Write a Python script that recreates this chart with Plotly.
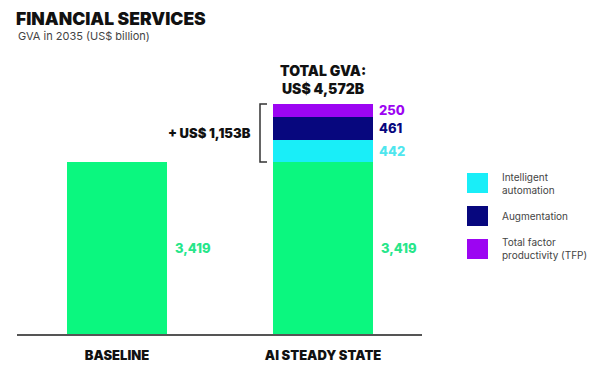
import plotly.graph_objects as go

categories = ["BASELINE", "AI STEADY STATE"]
base_values = [3419, 3419]
series_names = ["Intelligent automation", "Augmentation", "Total factor productivity (TFP)"]
legend_labels = ["Intelligent<br>automation", "Augmentation", "Total factor<br>productivity (TFP)"]
ai_values = [442, 461, 250]
total_gva = 4572
uplift = 1153

GREEN = "#0BF77F"
GREEN_TXT = "#27E68A"
colors = ["#19EEF8", "#07077E", "#9C05F2"]
label_colors = ["#4FE6EE", "#07077E", "#9C05F2"]

FONT = "Inter"
x = [0, 1]
bw = 0.485

fig = go.Figure()
fig.add_trace(go.Bar(x=x, y=base_values, width=bw, marker_color=GREEN,
                     marker_line_width=0, showlegend=False, hoverinfo="skip"))
for name, v, c in zip(series_names, ai_values, colors):
    fig.add_trace(go.Bar(x=[1], y=[v], width=bw, marker_color=c, marker_line_width=0,
                         name=name, showlegend=False))

annotations = []
for xi, v in zip(x, base_values):
    annotations.append(dict(x=xi + bw / 2, y=v / 2, xref="x", yref="y", xanchor="left",
                            yanchor="middle", xshift=6, showarrow=False,
                            text=f"{v:,}", font=dict(family=FONT, size=13, color=GREEN_TXT, weight=800)))
cum = base_values[1]
for v, c in zip(ai_values, label_colors):
    annotations.append(dict(x=1 + bw / 2, y=cum + v / 2, xref="x", yref="y", xanchor="left",
                            yanchor="middle", xshift=4, showarrow=False,
                            text=f"{v:,}", font=dict(family=FONT, size=13, color=c, weight=800)))
    cum += v

annotations.append(dict(x=1, y=total_gva, xref="x", yref="y", xanchor="center", yanchor="bottom",
                        yshift=5, showarrow=False,
                        text=f"TOTAL GVA:<br>US$ {total_gva:,}B",
                        font=dict(family=FONT, size=14, color="#111", weight=900)))
annotations.append(dict(x=0.694, y=base_values[1] + uplift / 2, xref="x", yref="y",
                        xanchor="right", yanchor="middle", xshift=-7, showarrow=False,
                        text=f"+ US$ {uplift:,}B",
                        font=dict(family=FONT, size=13, color="#111", weight=900)))

shapes = [dict(type="path", xref="x", yref="y",
               path=f"M 0.728,{total_gva} L 0.694,{total_gva} L 0.694,{base_values[1]} L 0.728,{base_values[1]}",
               line=dict(color="#333", width=1.5))]

# page has an 8px body margin: figure is placed at (8, 8)
OFF = 8
fig.update_layout(
    width=597 - OFF, height=371 - OFF,
    margin=dict(l=17 - OFF, r=175, t=64 - OFF, b=37),
    paper_bgcolor="white", plot_bgcolor="white",
    barmode="stack",
    showlegend=False,
    bargap=0,
    xaxis=dict(range=[-0.485, 1.48], tickvals=x, ticktext=categories, showgrid=False,
               zeroline=False, showline=True, linecolor="#555", linewidth=1.5, ticks="",
               ticklabelstandoff=9,
               tickfont=dict(family=FONT, size=13, color="#111", weight=900), fixedrange=True),
    yaxis=dict(range=[0, 5367], visible=False, fixedrange=True),
    annotations=annotations,
    shapes=shapes,
)

H = 371
pl, pw, ph, pb = 17, 405, 270, 37
def px(xp):
    return (xp - pl) / pw
def py(yp):
    return (H - pb - yp) / ph

fig.add_annotation(x=px(15), y=py(30), xref="paper", yref="paper", xanchor="left", yanchor="bottom",
                   showarrow=False, text="FINANCIAL SERVICES", borderpad=0,
                   font=dict(family=FONT, size=17.5, color="#111", weight=900))
fig.add_annotation(x=px(16), y=py(36), xref="paper", yref="paper", xanchor="left", yanchor="middle",
                   showarrow=False, text="GVA in 2035 (US$ billion)",
                   font=dict(family=FONT, size=11, color="#444"))

leg_y = [183, 216, 249]
for lbl, c, yc in zip(legend_labels, colors, leg_y):
    fig.add_shape(type="rect", xref="paper", yref="paper",
                  x0=px(467), x1=px(488), y0=py(yc + 10), y1=py(yc - 10),
                  fillcolor=c, line_width=0)
    fig.add_annotation(x=px(500), y=py(yc), xref="paper", yref="paper", xanchor="left",
                       yanchor="middle", showarrow=False, text=lbl, align="left",
                       font=dict(family=FONT, size=10, color="#444"))

fig.write_html("out.html", config={"displayModeBar": False})
